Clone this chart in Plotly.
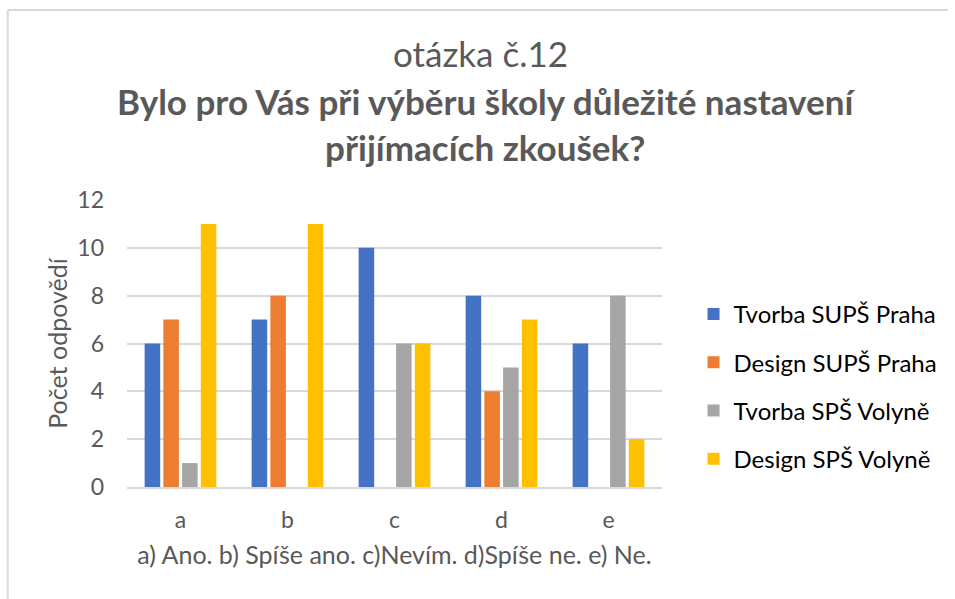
import plotly.graph_objects as go

categories = ["a", "b", "c", "d", "e"]
series_names = ["Tvorba SUPŠ Praha", "Design SUPŠ Praha", "Tvorba SPŠ Volyně", "Design SPŠ Volyně"]
tvorba_praha = [6, 7, 10, 8, 6]
design_praha = [7, 8, 0, 4, 0]
tvorba_volyne = [1, 0, 6, 5, 8]
design_volyne = [11, 11, 6, 7, 2]
colors = ["#4472C4", "#ED7D31", "#A5A5A5", "#FFC000"]
y_ticks = [0, 2, 4, 6, 8, 10, 12]

title_top = "otázka č.12"
title_main = "Bylo pro Vás při výběru školy důležité nastavení<br>přijímacích zkoušek?"
x_title = "a) Ano. b) Spíše ano. c)Nevím. d)Spíše ne. e) Ne."
y_title = "Počet odpovědí"

FONT = "Lato"
GRAY = "#595959"

W, H = 955, 599
L, R, T, B = 127, 670, 200, 487


def px(x):
    return (x - L) / (R - L)


def py(y):
    return (B - y) / (B - T)


fig = go.Figure()
for i, (name, vals) in enumerate(zip(series_names, [tvorba_praha, design_praha, tvorba_volyne, design_volyne])):
    fig.add_trace(go.Bar(
        x=categories, y=vals, name=name,
        marker=dict(color=colors[i], line=dict(width=0)),
        legendgroup=f"g{i}",
    ))

fig.update_layout(
    width=W, height=H,
    margin=dict(l=L, r=W - R, t=T, b=H - B, pad=0),
    paper_bgcolor="white", plot_bgcolor="white",
    barmode="group", bargap=0.3, bargroupgap=0.17,
    font=dict(family=FONT, color=GRAY, size=23),
    showlegend=True,
    legend=dict(
        x=px(702), y=py(292), xanchor="left", yanchor="top",
        font=dict(family=FONT, size=24, color="#000000"),
        tracegroupgap=14, bgcolor="rgba(0,0,0,0)",
    ),
    xaxis=dict(
        showgrid=False, showline=True, linecolor="#d9d9d9", linewidth=1.5,
        ticks="", tickfont=dict(size=23, color=GRAY), ticklabelstandoff=12,
        title=dict(text=x_title, font=dict(size=25, color=GRAY), standoff=14),
    ),
    yaxis=dict(
        range=[0, 12], tickvals=y_ticks, showgrid=True, gridcolor="#d9d9d9",
        gridwidth=1.5, zeroline=False, showline=False, ticks="",
        tickfont=dict(size=23, color=GRAY), ticklabelstandoff=22,
        title=dict(text=y_title, font=dict(size=25, color=GRAY), standoff=2),
    ),
    annotations=[
        dict(text=title_top, x=px(486), y=py(53), xref="paper", yref="paper",
             xanchor="center", yanchor="middle", showarrow=False,
             font=dict(family=FONT, size=35, color=GRAY)),
        dict(text="<b>" + title_main + "</b>", x=px(491), y=py(124), xref="paper", yref="paper",
             xanchor="center", yanchor="middle", showarrow=False,
             font=dict(family=FONT, size=35, color=GRAY)),
    ],
    shapes=[
        dict(type="line", xref="paper", yref="paper", x0=px(6), x1=px(960), y0=py(10), y1=py(10),
             line=dict(color="#d9d9d9", width=2)),
        dict(type="line", xref="paper", yref="paper", x0=px(6), x1=px(6), y0=py(10), y1=py(605),
             line=dict(color="#d9d9d9", width=2)),
    ],
)

fig.write_html("out.html", config={"displayModeBar": False},
               post_script="document.body.style.margin='0px';")
